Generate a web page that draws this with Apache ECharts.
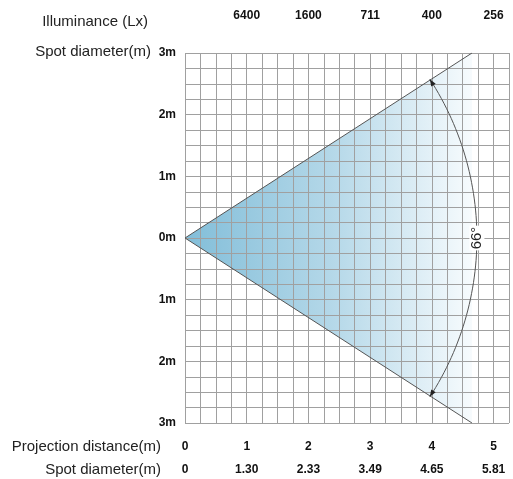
<!DOCTYPE html>
<html><head><meta charset="utf-8">
<script src="https://cdn.jsdelivr.net/npm/echarts@6/dist/echarts.min.js"></script>
<style>html,body{margin:0;padding:0;background:#fff}#c{width:513px;height:479px}</style>
</head><body><div id="c"></div>
<script>
// ---- data ----
const distances = [0, 1, 2, 3, 4, 5];              // projection distance (m)
const spotDiameters = ['0', '1.30', '2.33', '3.49', '4.65', '5.81'];
const illuminance = ['', '6400', '1600', '711', '400', '256'];
const yTicks = [-3, -2, -1, 0, 1, 2, 3];           // spot diameter axis (m)
const beamAngle = 66;                               // degrees
const beamEdgeUpper = [[0, 0], [4.65, 3]];
const beamEdgeLower = [[0, 0], [4.65, -3]];
const arcRadius = 4.73;
const xMax = 5.25, yMin = -3, yMax = 3, gridStep = 0.25;

const chart = echarts.init(document.getElementById('c'), null, {renderer: 'canvas'});
const FONT = 'Liberation Sans, Arial, sans-serif';
const isInt = v => Math.abs(v - Math.round(v)) < 1e-6;

const half = beamAngle / 2 * Math.PI / 180;

function arcSeriesRender(params, api) {
  const pts = [];
  const N = 60;
  for (let i = 0; i <= N; i++) {
    const a = -half + (2 * half) * i / N;
    pts.push(api.coord([arcRadius * Math.cos(a), arcRadius * Math.sin(a)]));
  }
  const children = [{
    type: 'polyline', shape: {points: pts},
    style: {stroke: '#555', lineWidth: 1, fill: null}
  }];
  [[pts[N], pts[N - 3]], [pts[0], pts[3]]].forEach(([tip, prev]) => {
    const dx = tip[0] - prev[0], dy = tip[1] - prev[1];
    const L = Math.hypot(dx, dy), ux = dx / L, uy = dy / L;
    const len = 7, w = 2.6;
    const bx = tip[0] - ux * len, by = tip[1] - uy * len;
    children.push({
      type: 'polygon',
      shape: {points: [tip, [bx - uy * w, by + ux * w], [bx + uy * w, by - ux * w]]},
      style: {fill: '#222'}
    });
  });
  const c = api.coord([arcRadius, 0]);
  children.push({
    type: 'text', x: c[0], y: c[1], rotation: Math.PI / 2,
    style: {text: beamAngle + '°', font: '15px ' + FONT, fill: '#222',
      align: 'center', verticalAlign: 'middle',
      backgroundColor: '#fff', padding: [0, 1]}
  });
  return {type: 'group', children};
}

function coneRender(params, api) {
  const p0 = api.coord(beamEdgeUpper[0]);
  const p1 = api.coord(beamEdgeUpper[1]);
  const p2 = api.coord(beamEdgeLower[1]);
  return {
    type: 'polygon',
    shape: {points: [p0, p1, p2]},
    style: {
      fill: new echarts.graphic.LinearGradient(0, 0, 1, 0, [
        {offset: 0, color: '#82bed9'},
        {offset: 0.5, color: '#b3d7e8'},
        {offset: 0.85, color: '#e2f0f7'},
        {offset: 1, color: '#f7fbfd'}
      ])
    }
  };
}

const axisCommon = {
  type: 'value', min: 0, max: xMax, interval: gridStep,
  axisLine: {show: false}, axisTick: {show: false}, splitLine: {show: false}
};
const gridLine = {show: true, lineStyle: {color: '#a0a0a0', width: 1}};
const numLabel = {color: '#111', fontWeight: 'bold', fontSize: 12, fontFamily: FONT};

chart.setOption({
  animation: false,
  grid: {left: 185, top: 53, right: 4, bottom: 56, show: false},
  xAxis: [
    Object.assign({}, axisCommon, {
      position: 'bottom', z: 3,
      splitLine: gridLine,
      axisLabel: Object.assign({margin: 18, showMinLabel: true, showMaxLabel: false,
        formatter: v => (isInt(v) && distances.indexOf(Math.round(v)) >= 0) ? String(Math.round(v)) : ''}, numLabel)
    }),
    Object.assign({}, axisCommon, {
      position: 'bottom', offset: 23,
      axisLabel: Object.assign({margin: 18, showMaxLabel: false,
        formatter: v => (isInt(v) && Math.round(v) < spotDiameters.length) ? spotDiameters[Math.round(v)] : ''}, numLabel)
    }),
    Object.assign({}, axisCommon, {
      position: 'top',
      axisLabel: Object.assign({margin: 31, showMaxLabel: false,
        formatter: v => (isInt(v) && Math.round(v) < illuminance.length) ? illuminance[Math.round(v)] : ''}, numLabel)
    })
  ],
  yAxis: {
    type: 'value', min: yMin, max: yMax, interval: gridStep, z: 3,
    axisLine: {show: false}, axisTick: {show: false},
    splitLine: gridLine,
    axisLabel: Object.assign({margin: 9, showMinLabel: true, showMaxLabel: true,
      formatter: v => (isInt(v) && yTicks.indexOf(Math.round(v)) >= 0) ? Math.abs(Math.round(v)) + 'm' : ''}, numLabel)
  },
  graphic: [
    {type: 'text', right: 513 - 148, top: 14, style: {text: 'Illuminance (Lx)', font: '15px ' + FONT, fill: '#222'}},
    {type: 'text', right: 513 - 151, top: 44, style: {text: 'Spot diameter(m)', font: '15px ' + FONT, fill: '#222'}},
    {type: 'text', right: 513 - 161, top: 439, style: {text: 'Projection distance(m)', font: '15px ' + FONT, fill: '#222'}},
    {type: 'text', right: 513 - 161, top: 462, style: {text: 'Spot diameter(m)', font: '15px ' + FONT, fill: '#222'}}
  ],
  series: [
    {type: 'custom', renderItem: coneRender, data: [[0, 0]], silent: true, z: 1},
    {type: 'line', data: beamEdgeUpper, symbol: 'none', lineStyle: {color: '#555', width: 1}, z: 5},
    {type: 'line', data: beamEdgeLower, symbol: 'none', lineStyle: {color: '#555', width: 1}, z: 5},
    {type: 'custom', renderItem: arcSeriesRender, data: [[arcRadius, 0]], silent: true, z: 6}
  ]
});
</script></body></html>
